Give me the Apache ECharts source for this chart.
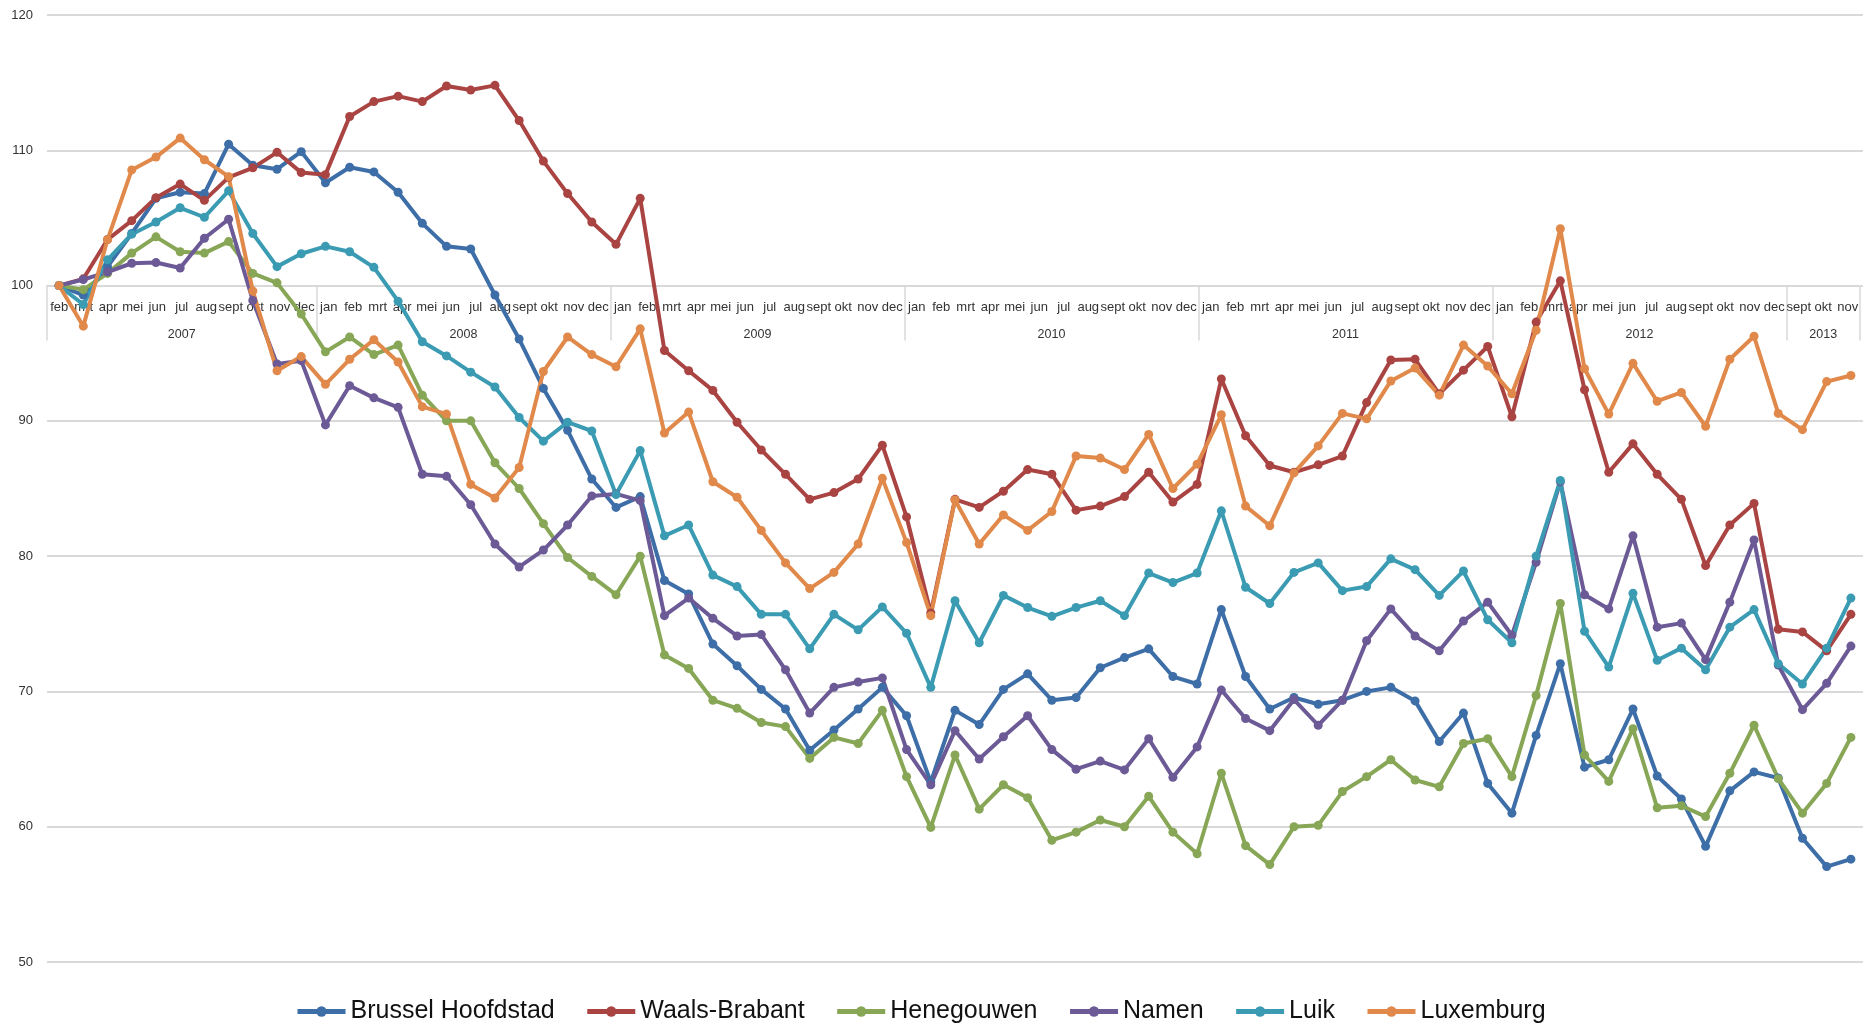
<!DOCTYPE html>
<html>
<head>
<meta charset="utf-8">
<script src="https://cdn.jsdelivr.net/npm/echarts@6/dist/echarts.min.js"></script>
<style>
  html, body { margin: 0; padding: 0; background: #fff; }
  #chart { width: 1863px; height: 1027px; }
</style>
</head>
<body>
<div id="chart"></div>
<script>
// maandlabels op de as (2007 begint in februari)
var monthLabels = [
  'feb', 'mrt', 'apr', 'mei', 'jun', 'jul', 'aug', 'sept', 'okt', 'nov', 'dec',
  'jan', 'feb', 'mrt', 'apr', 'mei', 'jun', 'jul', 'aug', 'sept', 'okt', 'nov', 'dec',
  'jan', 'feb', 'mrt', 'apr', 'mei', 'jun', 'jul', 'aug', 'sept', 'okt', 'nov', 'dec',
  'jan', 'feb', 'mrt', 'apr', 'mei', 'jun', 'jul', 'aug', 'sept', 'okt', 'nov', 'dec',
  'jan', 'feb', 'mrt', 'apr', 'mei', 'jun', 'jul', 'aug', 'sept', 'okt', 'nov', 'dec',
  'jan', 'feb', 'mrt', 'apr', 'mei', 'jun', 'jul', 'aug', 'sept', 'okt', 'nov', 'dec',
  'sept', 'okt', 'nov'
]
var yearLabels = ['2007', '2008', '2009', '2010', '2011', '2012', '2013']
var yearSpans = [11, 12, 12, 12, 12, 12, 3]

var seriesNames = ['Brussel Hoofdstad', 'Waals-Brabant', 'Henegouwen', 'Namen', 'Luik', 'Luxemburg']
var colors = ['#3d6ea7', '#a94442', '#87a656', '#6c5a96', '#3a9bb3', '#e0894a']

var brussel = [
  100, 99.3, 101.4, 103.85, 106.45, 106.9, 106.8, 110.45, 108.9, 108.6, 109.9,
  107.6, 108.75, 108.4, 106.9, 104.6, 102.9, 102.7, 99.3, 96.05, 92.4, 89.3, 85.7,
  83.6, 84.4, 78.2, 77.2, 73.5, 71.9, 70.15, 68.7, 65.65, 67.15, 68.7, 70.3,
  68.2, 63.3, 68.6, 67.55, 70.15, 71.3, 69.35, 69.55, 71.75, 72.5, 73.15, 71.1,
  70.55, 76.05, 71.1, 68.7, 69.55, 69.05, 69.35, 70.0, 70.3, 69.3, 66.3, 68.4,
  63.2, 61.0, 66.75, 72.05, 64.4, 64.95, 68.7, 63.75, 62.05, 58.55, 62.65, 64.05,
  63.6, 59.15, 57.05, 57.6
]
var waalsBrabant = [
  100, 100.5, 103.4, 104.8, 106.5, 107.5, 106.3, 108.0, 108.7, 109.85, 108.35,
  108.2, 112.5, 113.6, 114.0, 113.6, 114.75, 114.45, 114.8, 112.2, 109.2, 106.8, 104.7,
  103.05, 106.45, 95.2, 93.7, 92.25, 89.9, 87.85, 86.05, 84.2, 84.7, 85.7, 88.2,
  82.9, 75.8, 84.2, 83.6, 84.8, 86.4, 86.05, 83.4, 83.7, 84.4, 86.2, 84.0,
  85.3, 93.1, 88.9, 86.7, 86.2, 86.75, 87.4, 91.35, 94.5, 94.55, 92.0, 93.75,
  95.5, 90.3, 97.3, 100.35, 92.3, 86.2, 88.3, 86.05, 84.2, 79.3, 82.3, 83.9,
  74.6, 74.4, 73.0, 75.7
]
var henegouwen = [
  100, 99.7, 100.9, 102.4, 103.6, 102.5, 102.4, 103.25, 100.9, 100.2, 97.9,
  95.1, 96.2, 94.9, 95.6, 91.9, 90.0, 90.0, 86.9, 85.0, 82.4, 79.9, 78.5,
  77.15, 80.0, 72.7, 71.7, 69.35, 68.75, 67.7, 67.4, 65.05, 66.6, 66.15, 68.6,
  63.7, 59.95, 65.3, 61.3, 63.1, 62.15, 59.0, 59.6, 60.5, 60.0, 62.25, 59.6,
  58.0, 63.95, 58.6, 57.2, 60.0, 60.1, 62.6, 63.7, 64.95, 63.45, 62.95, 66.15,
  66.5, 63.7, 69.7, 76.5, 65.3, 63.35, 67.25, 61.4, 61.55, 60.75, 63.95, 67.5,
  63.55, 61.0, 63.2, 66.6
]
var namen = [
  100, 100.45, 101.0, 101.65, 101.7, 101.3, 103.5, 104.9, 98.9, 94.2, 94.45,
  89.7, 92.6, 91.7, 91.0, 86.05, 85.9, 83.8, 80.9, 79.2, 80.45, 82.3, 84.45,
  84.6, 84.1, 75.6, 76.9, 75.4, 74.1, 74.2, 71.6, 68.4, 70.3, 70.7, 71.0,
  65.7, 63.1, 67.1, 65.0, 66.65, 68.2, 65.7, 64.25, 64.85, 64.2, 66.5, 63.65,
  65.9, 70.1, 68.0, 67.1, 69.4, 67.5, 69.35, 73.75, 76.1, 74.1, 73.0, 75.2,
  76.6, 74.15, 79.55, 85.5, 77.15, 76.1, 81.5, 74.75, 75.05, 72.35, 76.6, 81.2,
  71.95, 68.65, 70.6, 73.35
]
var luik = [
  100, 98.6, 101.9, 103.8, 104.7, 105.75, 105.05, 107.0, 103.85, 101.4, 102.35,
  102.9, 102.5, 101.35, 98.85, 95.85, 94.8, 93.6, 92.5, 90.25, 88.5, 89.9, 89.25,
  84.55, 87.8, 81.5, 82.3, 78.6, 77.75, 75.7, 75.7, 73.15, 75.7, 74.55, 76.25,
  74.3, 70.3, 76.7, 73.6, 77.1, 76.2, 75.55, 76.2, 76.7, 75.6, 78.75, 78.05,
  78.75, 83.35, 77.7, 76.5, 78.8, 79.5, 77.45, 77.75, 79.8, 79.0, 77.1, 78.9,
  75.3, 73.6, 80.0, 85.6, 74.45, 71.8, 77.25, 72.3, 73.2, 71.6, 74.75, 76.05,
  72.05, 70.55, 73.2, 76.9
]
var luxemburg = [
  100, 97.0, 103.4, 108.55, 109.5, 110.9, 109.3, 108.05, 99.6, 93.7, 94.75,
  92.7, 94.55, 96.0, 94.35, 91.05, 90.5, 85.3, 84.3, 86.55, 93.65, 96.2, 94.9,
  94.0, 96.8, 89.1, 90.65, 85.5, 84.35, 81.9, 79.5, 77.6, 78.8, 80.9, 85.75,
  81.0, 75.6, 84.15, 80.9, 83.05, 81.9, 83.3, 87.4, 87.25, 86.4, 89.0, 85.0,
  86.8, 90.45, 83.7, 82.25, 86.15, 88.15, 90.55, 90.15, 92.95, 93.9, 91.9, 95.6,
  94.05, 92.0, 96.7, 104.2, 93.85, 90.5, 94.25, 91.45, 92.1, 89.6, 94.55, 96.25,
  90.55, 89.35, 92.9, 93.35
]
var allValues = [brussel, waalsBrabant, henegouwen, namen, luik, luxemburg]

var chart = echarts.init(document.getElementById('chart'))

// index-as voor de punten
var pointCats = brussel.map(function(v, i) { return i })

// jaar-as op halve maanden: label in het midden van elke groep, streepje op de grenzen
var yearAxisData = []
var yearBounds = {}
var start = 0
for (var n = 0; n <= monthLabels.length * 2; n++) yearAxisData.push('')
yearSpans.forEach(function(span, k) {
  yearBounds[start * 2] = true
  yearAxisData[start * 2 + span] = yearLabels[k]
  start += span
})
yearBounds[start * 2] = true

var labelFont = 'Liberation Sans, Arial, sans-serif'
var gridTop = 15
var plotH = 1027 - 65 - gridTop
var y100 = gridTop + plotH * 2 / 7

var option = {
  animation: false,
  color: colors,
  grid: [
    { left: 47, right: 0, top: gridTop, bottom: 65 },
    { left: 47, right: 0, top: gridTop, height: y100 - gridTop }
  ],
  legend: {
    top: 994,
    left: 290,
    itemWidth: 48,
    itemHeight: 13,
    itemGap: 30,
    lineStyle: { width: 5 },
    textStyle: { fontSize: 25, fontFamily: labelFont, color: '#111' },
    data: seriesNames
  },
  xAxis: [
    { type: 'category', gridIndex: 0, data: pointCats, show: false },
    {
      type: 'category', gridIndex: 1, position: 'bottom', data: monthLabels,
      axisLine: { show: true, lineStyle: { color: '#d9d9d9', width: 2 } },
      axisTick: { show: false },
      axisLabel: { interval: 0, margin: 15, fontSize: 13, fontFamily: labelFont, color: '#333' }
    },
    {
      type: 'category', gridIndex: 1, position: 'bottom', data: yearAxisData, boundaryGap: false,
      axisLine: { show: false },
      axisTick: {
        show: true, length: 55, lineStyle: { color: '#d9d9d9', width: 1.5 },
        interval: function(i) { return !!yearBounds[i] }
      },
      axisLabel: { interval: 0, margin: 42, fontSize: 12.5, fontFamily: labelFont, color: '#333' }
    }
  ],
  yAxis: [
    {
      type: 'value', gridIndex: 0, min: 50, max: 120, interval: 10,
      axisLine: { show: false },
      axisTick: { show: false },
      axisLabel: { margin: 14, fontSize: 13, fontFamily: labelFont, color: '#333' },
      splitLine: { lineStyle: { color: '#d9d9d9', width: 2 } }
    },
    { type: 'value', gridIndex: 1, show: false }
  ],
  series: seriesNames.map(function(name, k) {
    return {
      name: name,
      type: 'line',
      xAxisIndex: 0,
      yAxisIndex: 0,
      data: allValues[k],
      symbol: 'circle',
      symbolSize: 9,
      showAllSymbol: true,
      lineStyle: { width: 4 },
      itemStyle: { color: colors[k] }
    }
  })
}

chart.setOption(option)
</script>
</body>
</html>
